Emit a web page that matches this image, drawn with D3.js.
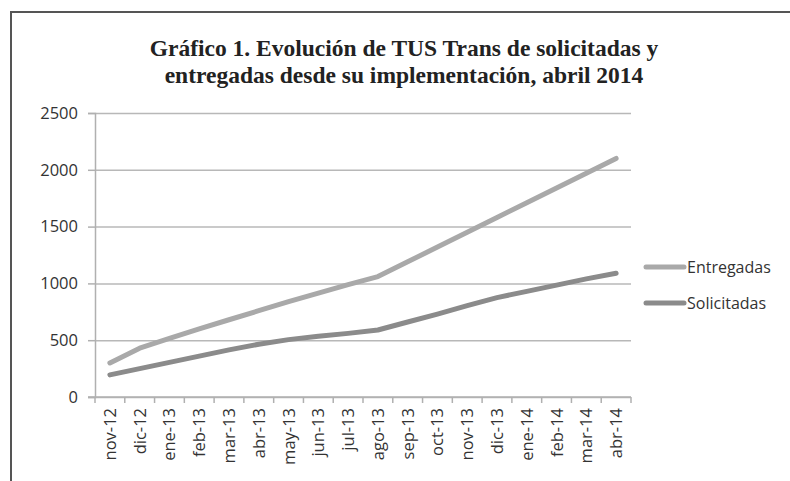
<!DOCTYPE html>
<html>
<head>
<meta charset="utf-8">
<title>TUS Trans</title>
<script src="https://d3js.org/d3.v7.min.js"></script>
<style>
body{margin:0;background:#fff;}
</style>
</head>
<body>
<svg width="790" height="481" id="mainsvg"></svg>
<script>
// datos
const months=['nov-12','dic-12','ene-13','feb-13','mar-13','abr-13','may-13','jun-13','jul-13',
'ago-13','sep-13','oct-13','nov-13','dic-13','ene-14','feb-14','mar-14','abr-14'];
const entregadas=[300,430,515,600,680,760,840,915,990,1060,1190,1320,1450,1580,1710,1840,1970,2100];
const solicitadas=[195,250,305,360,415,465,505,535,560,590,660,730,805,875,930,985,1040,1090];
const yTicks=[0,500,1000,1500,2000,2500];
const titleLines=['Gráfico 1. Evolución de TUS Trans de solicitadas y','entregadas desde su implementación, abril 2014'];
const seriesNames=['Entregadas','Solicitadas'];
const colors=['#a9a9a9','#8b8b8b'];

const svg=d3.select('svg');
const margin={top:113,left:95,right:159,bottom:84};
const width=+svg.attr('width');
const height=+svg.attr('height');
const innerW=width-margin.left-margin.right;
const innerH=height-margin.top-margin.bottom;

// marco
svg.append('rect')
 .attr('x',11).attr('y',12).attr('width',820).attr('height',520)
 .attr('fill','none').attr('stroke','#555').attr('stroke-width',2);

// titulo
svg.append('g').selectAll('text').data(titleLines).enter().append('text')
 .attr('x',404).attr('y',(d,i)=>56+i*26.5)
 .attr('text-anchor','middle')
 .style('font-family','"Liberation Serif", serif')
 .style('font-weight','bold')
 .style('font-size','23.5px')
 .attr('fill','#222')
 .text(d=>d);

const g=svg.append('g').attr('transform',`translate(${margin.left},${margin.top})`);

const x=d3.scaleBand().domain(months).range([0,innerW]);
const y=d3.scaleLinear().domain([0,2500]).range([innerH,0]);

// lineas de grilla
g.append('g')
 .call(d3.axisLeft(y).tickValues(yTicks).tickSize(-innerW).tickFormat(''))
 .call(a=>a.select('.domain').remove())
 .selectAll('line').attr('stroke','#b8b8b8').attr('stroke-width',1.5);

// eje y
const yax=g.append('g')
 .call(d3.axisLeft(y).tickValues(yTicks).tickSize(7).tickPadding(10).tickFormat(d3.format('d')));
yax.select('.domain').attr('stroke','#b0b0b0').attr('stroke-width',1.5);
yax.selectAll('line').attr('stroke','#b0b0b0').attr('stroke-width',1.5);
yax.selectAll('text')
 .style('font-family','"Open Sans", sans-serif').style('font-size','16.5px').attr('fill','#333');

// eje x
g.append('line').attr('x1',-7).attr('x2',innerW).attr('y1',innerH).attr('y2',innerH)
 .attr('stroke','#b0b0b0').attr('stroke-width',1.5);
g.append('g').selectAll('line').data(months.concat(['_end'])).enter().append('line')
 .attr('x1',(d,i)=>i<months.length?x(d):innerW)
 .attr('x2',(d,i)=>i<months.length?x(d):innerW)
 .attr('y1',innerH).attr('y2',innerH+6)
 .attr('stroke','#b0b0b0').attr('stroke-width',1.5);
g.append('g').selectAll('text').data(months).enter().append('text')
 .attr('transform',d=>`translate(${x(d)+x.bandwidth()/2+6},${innerH+11}) rotate(-90)`)
 .attr('text-anchor','end')
 .style('font-family','"Open Sans", sans-serif').style('font-size','16.5px').attr('fill','#333')
 .text(d=>d);

// series
const series=[entregadas,solicitadas];
const line=d3.line().x((d,i)=>x(months[i])+x.bandwidth()/2).y(d=>y(d));
g.selectAll('.serie').data(series).enter().append('path')
 .attr('class','serie')
 .attr('d',d=>line(d))
 .attr('fill','none')
 .attr('stroke',(d,i)=>colors[i])
 .attr('stroke-width',5)
 .attr('stroke-linecap','round')
 .attr('stroke-linejoin','round');

// leyenda
const legend=svg.append('g').selectAll('g').data(seriesNames).enter().append('g')
 .attr('transform',(d,i)=>`translate(646,${267+i*36})`);
legend.append('line').attr('x1',0).attr('x2',38).attr('y1',0).attr('y2',0)
 .attr('stroke',(d,i)=>colors[i]).attr('stroke-width',5).attr('stroke-linecap','round');
legend.append('text').attr('x',41).attr('y',5.5)
 .style('font-family','"Open Sans", sans-serif').style('font-size','16px').attr('fill','#333')
 .text(d=>d);
</script>
</body>
</html>
